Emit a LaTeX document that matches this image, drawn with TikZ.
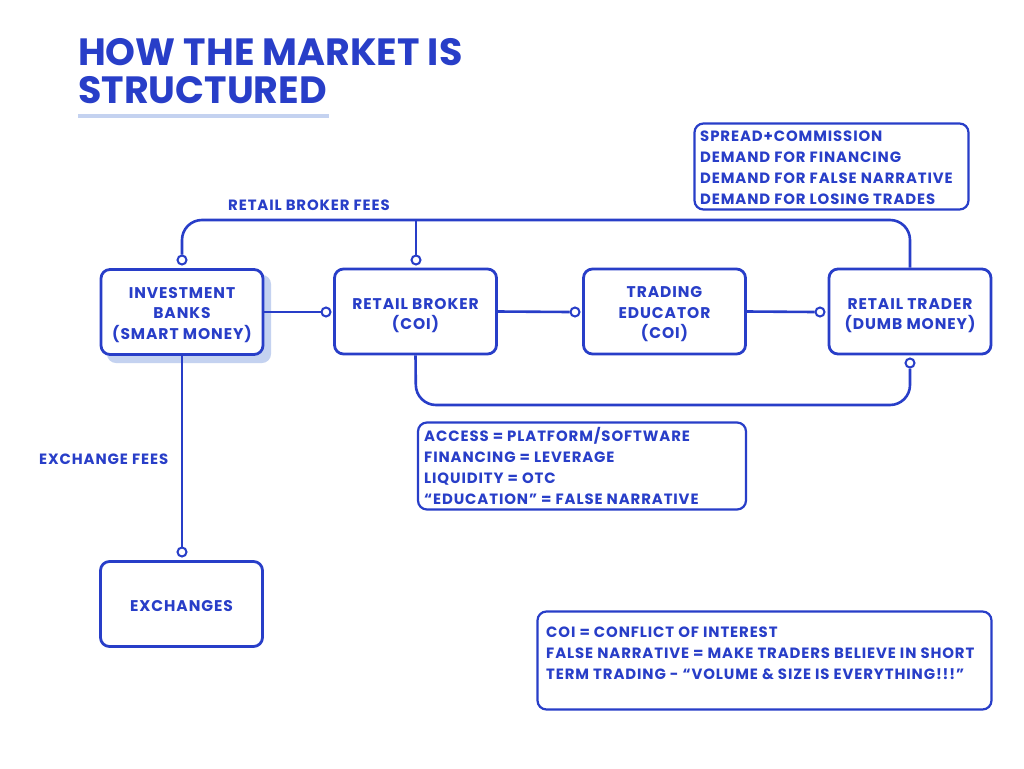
\documentclass[tikz,border=0pt]{standalone}
\usepackage{fontspec}
\setmainfont{Poppins}
\newfontfamily\spfont{Poppins}[LetterSpace=6]
\definecolor{mblue}{RGB}{40,62,200}
\definecolor{lblue}{RGB}{196,210,240}
\begin{document}
\begin{tikzpicture}[x=1pt,y=-1pt,
  box/.style={draw=mblue, line width=2.8pt, rounded corners=9pt, minimum width=#1, minimum height=85pt, inner sep=0pt, align=center, text=mblue, font=\spfont\bfseries\fontsize{15.5}{20.5}\selectfont},
  box/.default=162pt,
  note/.style={draw=mblue, line width=2.2pt, rounded corners=9pt, inner sep=0pt},
  notetext/.style={anchor=north west, inner sep=0pt, align=left, text=mblue, font=\spfont\bfseries\fontsize{14.9}{21}\selectfont},
  lbl/.style={inner sep=0pt, text=mblue, font=\spfont\bfseries\fontsize{14.9}{17}\selectfont},
  dot/.style={circle, draw=mblue, line width=2pt, fill=white, minimum size=9pt, inner sep=0pt},
  conn/.style={draw=mblue, line width=2.6pt}]
\useasboundingbox (0,0) rectangle (1024,768);
\fill[white] (0,0) rectangle (1024,768);
% title
\node[anchor=base west, inner sep=0pt, text=mblue, font=\bfseries\fontsize{38}{37}\selectfont] (t1) at (78,66) {HOW THE MARKET IS};
\node[anchor=base west, inner sep=0pt, text=mblue, font=\bfseries\fontsize{38}{37}\selectfont] (t2) at (78,103) {STRUCTURED};
\fill[lblue] (78,114) rectangle (329,118);
% shadow
\fill[lblue, rounded corners=9pt] (107,275) rectangle (271,363);
% boxes
\node[box, fill=white] (IB) at (182,312) {};
\node[box] (RB) at (415.5,311.5) {};
\node[box] (TE) at (664.5,311.5) {};
\node[box] (RT) at (910,311.5) {};
\node[box] (EX) at (181.5,604) {};
\node[box, draw=none, yshift=-3pt] (IBt) at (IB) {INVESTMENT\\BANKS\\(SMART MONEY)};
\node[box, draw=none, yshift=-4pt] (RBt) at (RB) {RETAIL BROKER\\(COI)};
\node[box, draw=none, yshift=-3pt] (TEt) at (TE) {TRADING\\EDUCATOR\\(COI)};
\node[box, draw=none, yshift=-4pt] (RTt) at (RT) {RETAIL TRADER\\(DUMB MONEY)};
\node[box, draw=none, yshift=-2pt] (EXt) at (EX) {EXCHANGES};
% notes
\node[note, minimum width=274pt, minimum height=86pt] (N1) at (831.5,166.5) {};
\node[notetext] (N1t) at (700,130.5) {SPREAD+COMMISSION\\DEMAND FOR FINANCING\\DEMAND FOR FALSE NARRATIVE\\DEMAND FOR LOSING TRADES};
\node[note, minimum width=328pt, minimum height=87pt] (N2) at (582,466) {};
\node[notetext] (N2t) at (424,427.5) {ACCESS = PLATFORM/SOFTWARE\\FINANCING = LEVERAGE\\LIQUIDITY = OTC\\“EDUCATION” = FALSE NARRATIVE};
\node[note, minimum width=454pt, minimum height=98pt] (N3) at (764.5,660.5) {};
\node[notetext] (N3t) at (546,626.5) {COI = CONFLICT OF INTEREST\\FALSE NARRATIVE = MAKE TRADERS BELIEVE IN SHORT\\TERM TRADING - “VOLUME \& SIZE IS EVERYTHING!!!”};
% dots
\node[dot] (c1) at (182,260) {};
\node[dot] (c2) at (416,260) {};
\node[dot] (c3) at (326,312) {};
\node[dot] (c4) at (575,312) {};
\node[dot] (c5) at (820,312) {};
\node[dot] (c6) at (910,363) {};
\node[dot] (c7) at (182,552) {};
\coordinate (j1) at (182,220);
\coordinate (j2) at (416,220);
\coordinate (j3) at (910,220);
\coordinate (k1) at (416,405);
\coordinate (k2) at (910,405);
% connectors
\draw[conn] (IB.east) -- (c3.west);
\draw[conn] (RB.east) -- (c4.west);
\draw[conn] (TE.east) -- (c5.west);
\draw[conn, rounded corners=20pt] (c1.north) -- (j1) -- (j3) -- (RT.north);
\draw[conn] (c2.north) -- (j2);
\draw[conn, rounded corners=20pt] (RB.south) -- (k1) -- (k2) -- (c6.south);
\draw[conn] (IB.south) -- (c7.north);
% labels
\node[lbl] (L1) at (309,205) {RETAIL BROKER FEES};
\node[lbl, anchor=west] (L2) at (39,459) {EXCHANGE FEES};
\end{tikzpicture}
\end{document}
